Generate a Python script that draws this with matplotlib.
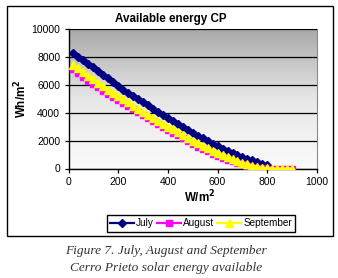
import numpy as np
import matplotlib.pyplot as plt
from matplotlib.patches import Rectangle
from matplotlib.colors import LinearSegmentedColormap

# irradiance (W/m2) for each point
irr_july = [20, 40, 60, 80, 100, 120, 140, 160, 180, 200, 220, 240, 260, 280,
            300, 320, 340, 360, 380, 400, 420, 440, 460, 480, 500, 520, 540,
            560, 580, 600, 620, 640, 660, 680, 700, 720, 740, 760, 780, 800]
irr_aug_sep = irr_july + [820, 840, 860, 880, 900]

july = [8300, 8020, 7760, 7500, 7250, 6980, 6720, 6460, 6180, 5900, 5650,
        5420, 5180, 4950, 4750, 4520, 4280, 4060, 3820, 3600, 3400, 3200,
        2980, 2770, 2550, 2350, 2160, 1970, 1780, 1600, 1430, 1270, 1120,
        970, 830, 700, 580, 460, 350, 240]
august = [7100, 6830, 6560, 6300, 6060, 5820, 5590, 5360, 5130, 4900, 4680,
          4460, 4240, 4030, 3820, 3610, 3400, 3190, 2980, 2780, 2580, 2380,
          2180, 1990, 1760, 1570, 1390, 1220, 1060, 900, 760, 630, 510, 410,
          300, 200, 120, 50, 10, 0, 0, 0, 0, 0, 0]
september = [7450, 7170, 6900, 6640, 6390, 6140, 5900, 5660, 5420, 5190, 4960,
             4740, 4510, 4290, 4070, 3860, 3640, 3430, 3220, 3010, 2800, 2600,
             2400, 2200, 2000, 1810, 1630, 1450, 1280, 1120, 960, 810, 670,
             540, 420, 310, 210, 120, 50, 10, 0, 0, 0, 0, 0]

W, H = 338, 278
fig = plt.figure(figsize=(W / 100, H / 100), dpi=100)
fig.patch.set_facecolor("white")
plt.rcParams["font.family"] = ["Liberation Sans", "DejaVu Sans"]

# chart frame
fig.patches.append(Rectangle((7 / W, 1 - 236 / H), 326 / W, 230 / H,
                             transform=fig.transFigure, fill=False,
                             edgecolor="black", lw=1.0))

ax = fig.add_axes([68.5 / W, 1 - 168.5 / H, 248.5 / W, 139.5 / H])

# gray gradient background
grad = np.linspace(0, 1, 256).reshape(-1, 1)
cmap = LinearSegmentedColormap.from_list("bg", ["#fbfbfb", "#e6e6e6", "#a8a8a8"])
ax.imshow(grad, extent=[0, 1, 0, 1], transform=ax.transAxes, cmap=cmap,
          aspect="auto", origin="lower", zorder=0)

ax.plot(irr_july, july, "-D", color="#000080", lw=1.6, markersize=3.8,
        label="July", zorder=3)
ax.plot(irr_aug_sep, august, "-s", color="#ff00ff", lw=1.6, markersize=4.6,
        label="August", zorder=4)
ax.plot(irr_aug_sep, september, "-^", color="#ffff00", lw=1.6, markersize=5.4,
        label="September", zorder=5)

ax.set_xlim(0, 1000)
ax.set_ylim(0, 10000)
ax.set_xticks(range(0, 1001, 200))
ax.set_yticks(range(0, 10001, 2000))
ax.grid(axis="y", color="black", lw=0.9)
ax.set_axisbelow(False)
for s in ["top", "right"]:
    ax.spines[s].set_color("#8a8a8a")
    ax.spines[s].set_linewidth(0.8)
for s in ["left", "bottom"]:
    ax.spines[s].set_color("black")
    ax.spines[s].set_linewidth(1.0)
ax.tick_params(direction="out", length=3, width=0.9, labelsize=7.5, pad=3)

fig.text(171 / W, 1 - 19 / H, "Available energy CP", ha="center",
         va="center", fontsize=8.4, fontweight="bold")
fig.text(21 / W, 1 - 99 / H, "Wh/m$^\\mathbf{2}$", rotation=90, ha="center",
         va="center", fontsize=8.4, fontweight="bold")
fig.text(200 / W, 1 - 197 / H, "W/m$^\\mathbf{2}$", ha="center", va="center",
         fontsize=8.4, fontweight="bold")

leg = fig.legend(loc="center", bbox_to_anchor=(201 / W, 1 - 223 / H), ncol=3,
                 fontsize=7.2, frameon=True, fancybox=False, framealpha=1,
                 edgecolor="black", borderpad=0.35, columnspacing=0.3,
                 handletextpad=0.2, handlelength=2.4)
leg.get_frame().set_linewidth(1.0)

fig.text(166 / W, 1 - 251 / H, "Figure 7. July, August and September",
         ha="center", va="center", fontsize=9.6, style="italic",
         family="Liberation Serif", color="#333333")
fig.text(166 / W, 1 - 268 / H, "Cerro Prieto solar energy available",
         ha="center", va="center", fontsize=9.6, style="italic",
         family="Liberation Serif", color="#333333")

fig.savefig("out.png", dpi=100)
